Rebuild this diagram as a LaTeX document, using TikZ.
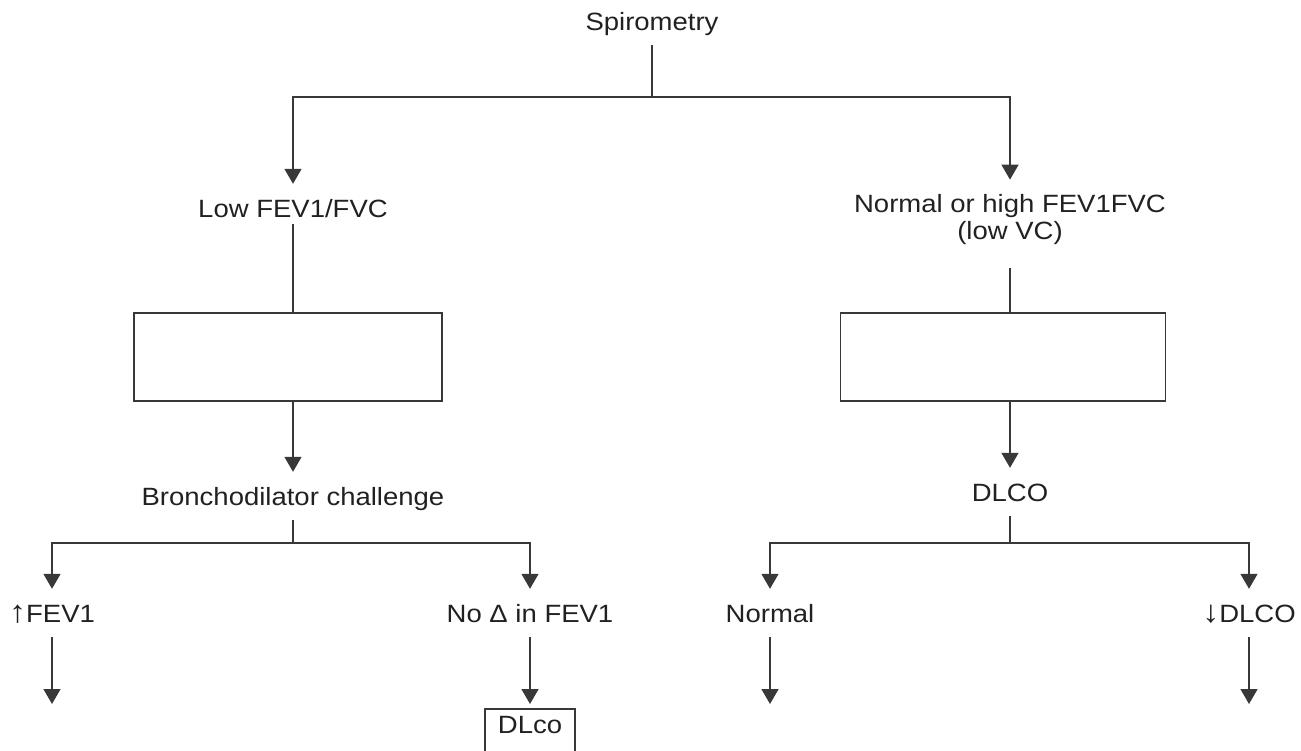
\documentclass[tikz,border=0pt]{standalone}
\usepackage{fontspec}
\setmainfont{Liberation Sans}[FakeStretch=1.1]
\usetikzlibrary{arrows.meta}
\newcommand{\bigarr}[1]{{\fontsize{31}{27}\selectfont #1}}
\begin{document}
\begin{tikzpicture}[x=1pt,y=-1pt,
  txt/.style={inner xsep=0pt,inner ysep=15pt,align=center,font=\fontsize{25}{27}\selectfont,text=black!87},
  lab/.style={txt,text height=18pt,text depth=0pt},
  ln/.style={draw=black!78,line width=1.5pt},
  arr/.style={ln,-{Triangle[length=15pt,width=17pt]}},
  blank/.style={ln,minimum width=308pt,minimum height=88pt,inner sep=0pt}]
\useasboundingbox (0,0) rectangle (1301,750);
\node[lab] (spiro) at (652,21) {Spirometry};
\node[lab] (low) at (293,208) {Low FEV1/FVC};
\node[txt] (high) at (1010,220) {Normal or high FEV1FVC\\(low VC)};
\node[blank] (lbox) at (288,357) {};
\node[blank,minimum width=325pt] (rbox) at (1003,357) {};
\node[lab] (bron) at (293,496) {Bronchodilator challenge};
\node[lab] (dlco) at (1010,492) {DLCO};
\node[lab] (upfev) at (52,613) {\bigarr{↑}FEV1};
\node[lab] (nochg) at (530,613) {No Δ in FEV1};
\node[lab] (norm) at (770,613) {Normal};
\node[lab] (lowd) at (1249,613) {\bigarr{↓}DLCO};
\node[ln,anchor=north,inner xsep=13pt,inner ysep=7pt,text height=18pt,text depth=12pt,
  font=\fontsize{25}{27}\selectfont,text=black!87] (dlbox) at (530,708) {DLco};
\coordinate (j1) at (652,97);
\coordinate (j2) at (293,543);
\coordinate (j3) at (1010,543);
\coordinate (e1) at (52,704);
\coordinate (e3) at (770,704);
\coordinate (e4) at (1249,704);
\draw[ln] (spiro) -- (j1);
\draw[arr] (j1) -| (low);
\draw[arr] (j1) -| (high);
\draw[ln,shorten <=-8pt] (low) -- (low |- lbox.north);
\draw[arr] (lbox.south -| low) -- (bron);
\draw[ln,shorten <=8pt] (high) -- (high |- rbox.north);
\draw[arr] (rbox.south -| high) -- (dlco);
\draw[ln] (bron) -- (j2);
\draw[arr] (j2) -| (upfev);
\draw[arr] (j2) -| (nochg);
\draw[ln] (dlco) -- (j3);
\draw[arr] (j3) -| (norm);
\draw[arr] (j3) -| (lowd);
\draw[arr] (upfev) -- (e1);
\draw[arr,shorten >=4pt] (nochg) -- (dlbox);
\draw[arr] (norm) -- (e3);
\draw[arr] (lowd) -- (e4);
\end{tikzpicture}
\end{document}
